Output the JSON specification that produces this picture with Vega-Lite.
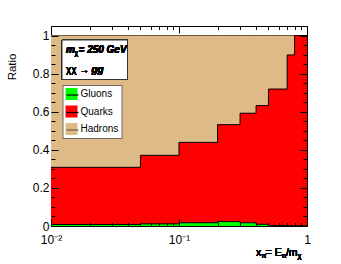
{
  "$schema": "https://vega.github.io/schema/vega-lite/v6.json",
  "width": 256,
  "height": 200,
  "autosize": {"type": "none"},
  "padding": {"left": 51, "top": 26, "right": 34, "bottom": 38},
  "background": "white",
  "config": {
    "view": {"stroke": "black", "strokeWidth": 1},
    "font": "Liberation Sans"
  },
  "data": {
    "values": [
      {"x": 0.01, "g": 0.008, "q": 0.308, "h": 1.0},
      {"x": 0.05, "g": 0.011, "q": 0.371, "h": 1.0},
      {"x": 0.1, "g": 0.017, "q": 0.439, "h": 1.0},
      {"x": 0.2, "g": 0.023, "q": 0.532, "h": 1.0},
      {"x": 0.3, "g": 0.017, "q": 0.592, "h": 1.0},
      {"x": 0.4, "g": 0.009, "q": 0.632, "h": 1.0},
      {"x": 0.5, "g": 0.002, "q": 0.719, "h": 1.0},
      {"x": 0.7, "g": 0.001, "q": 0.898, "h": 1.0},
      {"x": 0.8, "g": 0.001, "q": 1.0, "h": 1.0},
      {"x": 1.0, "g": 0.001, "q": 1.0, "h": 1.0}
    ]
  },
  "resolve": {"axis": {"x": "independent", "y": "independent"}},
  "layer": [
    {
      "mark": {"type": "area", "interpolate": "step-after", "opacity": 1},
      "encoding": {
        "x": {"field": "x", "type": "quantitative",
          "scale": {"type": "log", "domain": [0.01, 1], "nice": false},
          "axis": {"orient": "bottom",
            "values": [0.01,0.02,0.03,0.04,0.05,0.06,0.07,0.08,0.09,0.1,0.2,0.3,0.4,0.5,0.6,0.7,0.8,0.9,1],
            "labelExpr": "datum.value==0.01 ? '10⁻²' : datum.value==0.1 ? '10⁻¹' : datum.value==1 ? '1' : ''",
            "tickSize": {"condition": {"test": "datum.value==0.01 || datum.value==0.1 || datum.value==1", "value": -7}, "value": -3.5},
            "labelPadding": 15, "labelFont": "Liberation Sans", "labelFontSize": 12, "labelColor": "black",
            "labelOverlap": false, "labelFlush": false, "labelBaseline": "top",
            "domain": false, "grid": false, "tickColor": "black", "tickWidth": 1, "title": null, "zindex": 1}},
        "y": {"field": "h", "type": "quantitative",
          "scale": {"domain": [0, 1.05], "nice": false, "zero": false},
          "axis": {"orient": "left",
            "values": [0,0.05,0.1,0.15,0.2,0.25,0.3,0.35,0.4,0.45,0.5,0.55,0.6,0.65,0.7,0.75,0.8,0.85,0.9,0.95,1],
            "labelExpr": "abs(datum.value*5-round(datum.value*5))<1e-6 ? format(datum.value,'~g') : ''",
            "tickSize": {"condition": {"test": "abs(datum.value*5-round(datum.value*5))<1e-6", "value": -7}, "value": -4},
            "labelPadding": 9, "labelFont": "Liberation Sans", "labelFontSize": 12, "labelColor": "black",
            "labelOverlap": false, "labelFlush": false,
            "domain": false, "grid": false, "tickColor": "black", "tickWidth": 1, "zindex": 1,
            "title": "Ratio", "titleAnchor": "end", "titleAlign": "right", "titleAngle": -90,
            "titleBaseline": "middle", "titleX": -39, "titleY": 27,
            "titleFont": "Liberation Sans", "titleFontSize": 11.5, "titleFontWeight": "normal", "titleColor": "black"}},
        "fill": {"datum": "Hadrons", "type": "nominal",
          "scale": {"domain": ["Gluons", "Quarks", "Hadrons"], "range": ["#00FF00", "#FF0000", "#DEBA87"]},
          "legend": {"orient": "none", "legendX": 11.5, "legendY": 59, "title": null,
            "symbolType": "square", "symbolSize": 144, "symbolStrokeWidth": 0, "symbolOpacity": 1,
            "labelFont": "Liberation Sans", "labelFontSize": 10, "labelColor": "black", "labelOffset": 3,
            "labelExpr": "datum.label + '\u00a0\u00a0'",
            "rowPadding": 5.5, "padding": 3, "fillColor": "white", "strokeColor": "#666666"}}
      }
    },
    {
      "mark": {"type": "line", "interpolate": "step-after", "strokeWidth": 1},
      "encoding": {
        "x": {"field": "x", "type": "quantitative",
          "axis": {"orient": "top",
            "values": [0.01,0.02,0.03,0.04,0.05,0.06,0.07,0.08,0.09,0.1,0.2,0.3,0.4,0.5,0.6,0.7,0.8,0.9,1],
            "labels": false,
            "tickSize": {"condition": {"test": "datum.value==0.01 || datum.value==0.1 || datum.value==1", "value": -7}, "value": -3.5},
            "domain": false, "grid": false, "tickColor": "black", "tickWidth": 1, "title": null, "zindex": 1}},
        "y": {"field": "h", "type": "quantitative",
          "axis": {"orient": "right",
            "values": [0,0.05,0.1,0.15,0.2,0.25,0.3,0.35,0.4,0.45,0.5,0.55,0.6,0.65,0.7,0.75,0.8,0.85,0.9,0.95,1],
            "labels": false,
            "tickSize": {"condition": {"test": "abs(datum.value*5-round(datum.value*5))<1e-6", "value": -7}, "value": -4},
            "domain": false, "grid": false, "tickColor": "black", "tickWidth": 1, "title": null, "zindex": 1}},
        "stroke": {"datum": "h", "type": "nominal",
          "scale": {"domain": ["g", "q", "h"], "range": ["#000000", "#000000", "#6B5A3E"]},
          "legend": {"orient": "none", "legendX": 11.5, "legendY": 59, "title": null,
            "symbolType": "stroke", "symbolSize": 144, "symbolStrokeWidth": 1.2,
            "labelFont": "Liberation Sans", "labelFontSize": 10, "labelExpr": "''", "labelOffset": 3,
            "rowPadding": 5.5, "padding": 3}}
      }
    },
    {
      "mark": {"type": "area", "interpolate": "step-after", "opacity": 1},
      "encoding": {
        "x": {"field": "x", "type": "quantitative", "axis": null},
        "y": {"field": "q", "type": "quantitative", "axis": null},
        "fill": {"datum": "Quarks", "type": "nominal"}
      }
    },
    {
      "mark": {"type": "line", "interpolate": "step-after", "strokeWidth": 1},
      "encoding": {
        "x": {"field": "x", "type": "quantitative", "axis": null},
        "y": {"field": "q", "type": "quantitative", "axis": null},
        "stroke": {"datum": "q", "type": "nominal"}
      }
    },
    {
      "mark": {"type": "area", "interpolate": "step-after", "opacity": 1},
      "encoding": {
        "x": {"field": "x", "type": "quantitative", "axis": null},
        "y": {"field": "g", "type": "quantitative", "axis": null},
        "fill": {"datum": "Gluons", "type": "nominal"}
      }
    },
    {
      "mark": {"type": "line", "interpolate": "step-after", "strokeWidth": 1},
      "encoding": {
        "x": {"field": "x", "type": "quantitative", "axis": null},
        "y": {"field": "g", "type": "quantitative", "axis": null},
        "stroke": {"datum": "g", "type": "nominal"}
      }
    },
    {
      "mark": {"type": "rect", "color": "black", "xOffset": 2, "yOffset": 2},
      "encoding": {
        "x": {"datum": 0.01219, "type": "quantitative", "axis": null},
        "x2": {"datum": 0.0396},
        "y": {"datum": 0.9765, "type": "quantitative", "axis": null},
        "y2": {"datum": 0.7691}
      }
    },
    {
      "mark": {"type": "rect", "fill": "white", "stroke": "#333333", "strokeWidth": 1},
      "encoding": {
        "x": {"datum": 0.01219, "type": "quantitative", "axis": null},
        "x2": {"datum": 0.0396},
        "y": {"datum": 0.9765, "type": "quantitative", "axis": null},
        "y2": {"datum": 0.7691}
      }
    },
    {
      "mark": {"type": "text", "text": "m", "font": "Liberation Sans", "fontSize": 10, "fontStyle": "italic", "fontWeight": "bold", "align": "left", "baseline": "middle", "color": "black"},
      "encoding": {
        "x": {"datum": 0.0131, "type": "quantitative", "axis": null},
        "y": {"datum": 0.924, "type": "quantitative", "axis": null}
      }
    },
    {
      "mark": {"type": "text", "text": "χ", "font": "Liberation Sans", "fontSize": 7, "align": "left", "baseline": "middle", "dx": 8.5, "dy": 3, "color": "black"},
      "encoding": {
        "x": {"datum": 0.0131, "type": "quantitative", "axis": null},
        "y": {"datum": 0.924, "type": "quantitative", "axis": null}
      }
    },
    {
      "mark": {"type": "text", "text": "= 250 GeV", "font": "Liberation Sans", "fontSize": 10, "fontStyle": "italic", "fontWeight": "bold", "align": "left", "baseline": "middle", "dx": 12.5, "color": "black"},
      "encoding": {
        "x": {"datum": 0.0131, "type": "quantitative", "axis": null},
        "y": {"datum": 0.924, "type": "quantitative", "axis": null}
      }
    },
    {
      "mark": {"type": "text", "text": "χχ →", "font": "Liberation Sans", "fontSize": 10, "align": "left", "baseline": "middle", "color": "black"},
      "encoding": {
        "x": {"datum": 0.0131, "type": "quantitative", "axis": null},
        "y": {"datum": 0.819, "type": "quantitative", "axis": null}
      }
    },
    {
      "mark": {"type": "text", "text": "gg", "font": "Liberation Sans", "fontSize": 10, "fontStyle": "italic", "fontWeight": "bold", "align": "left", "baseline": "middle", "dx": 25.5, "color": "black"},
      "encoding": {
        "x": {"datum": 0.0131, "type": "quantitative", "axis": null},
        "y": {"datum": 0.819, "type": "quantitative", "axis": null}
      }
    },
    {
      "mark": {"type": "text", "text": "x", "font": "Liberation Sans", "fontSize": 10.5, "align": "left", "baseline": "middle", "dx": -51, "dy": 27, "color": "black"},
      "encoding": {
        "x": {"datum": 1, "type": "quantitative", "axis": null},
        "y": {"datum": 0, "type": "quantitative", "axis": null}
      }
    },
    {
      "mark": {"type": "text", "text": "π", "font": "Liberation Sans", "fontSize": 7.5, "align": "left", "baseline": "middle", "dx": -45.7, "dy": 30, "color": "black"},
      "encoding": {
        "x": {"datum": 1, "type": "quantitative", "axis": null},
        "y": {"datum": 0, "type": "quantitative", "axis": null}
      }
    },
    {
      "mark": {"type": "text", "text": "= E", "font": "Liberation Sans", "fontSize": 10.5, "align": "left", "baseline": "middle", "dx": -41.4, "dy": 27, "color": "black"},
      "encoding": {
        "x": {"datum": 1, "type": "quantitative", "axis": null},
        "y": {"datum": 0, "type": "quantitative", "axis": null}
      }
    },
    {
      "mark": {"type": "text", "text": "π", "font": "Liberation Sans", "fontSize": 7.5, "align": "left", "baseline": "middle", "dx": -25.4, "dy": 30, "color": "black"},
      "encoding": {
        "x": {"datum": 1, "type": "quantitative", "axis": null},
        "y": {"datum": 0, "type": "quantitative", "axis": null}
      }
    },
    {
      "mark": {"type": "text", "text": "/m", "font": "Liberation Sans", "fontSize": 10.5, "align": "left", "baseline": "middle", "dx": -21.1, "dy": 27, "color": "black"},
      "encoding": {
        "x": {"datum": 1, "type": "quantitative", "axis": null},
        "y": {"datum": 0, "type": "quantitative", "axis": null}
      }
    },
    {
      "mark": {"type": "text", "text": "χ", "font": "Liberation Sans", "fontSize": 7.5, "align": "left", "baseline": "middle", "dx": -9.4, "dy": 30, "color": "black"},
      "encoding": {
        "x": {"datum": 1, "type": "quantitative", "axis": null},
        "y": {"datum": 0, "type": "quantitative", "axis": null}
      }
    }
  ]
}
